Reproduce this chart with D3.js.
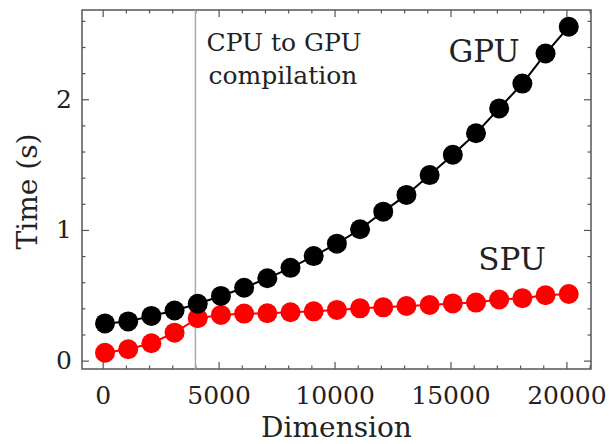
<!DOCTYPE html>
<html>
<head>
<meta charset="utf-8">
<script src="https://cdn.jsdelivr.net/npm/d3@7"></script>
<style>
  html, body { margin: 0; padding: 0; background: #fff; }
  svg text { font-family: "DejaVu Serif", "Liberation Serif", serif; fill: #222; }
</style>
</head>
<body>
<script>
// values
var dims = [100, 1100, 2100, 3100, 4100, 5100, 6100, 7100, 8100, 9100, 10100,
            11100, 12100, 13100, 14100, 15100, 16100, 17100, 18100, 19100, 20100];
var gpuTimes = [0.285, 0.30, 0.342, 0.384, 0.435, 0.495, 0.558, 0.63, 0.71, 0.80, 0.895,
                1.005, 1.14, 1.268, 1.42, 1.575, 1.74, 1.93, 2.12, 2.35, 2.555];
var spuTimes = [0.06, 0.087, 0.133, 0.214, 0.325, 0.35, 0.36, 0.363, 0.37, 0.377, 0.388,
                0.40, 0.408, 0.418, 0.426, 0.438, 0.444, 0.468, 0.478, 0.50, 0.51];
var xTicks = [0, 5000, 10000, 15000, 20000];
var yTicks = [0, 1, 2];
var compileAt = 4000;

var W = 609, H = 444;
var box = {left: 82, right: 591, top: 10, bottom: 369};

var svg = d3.select("body").append("svg")
    .attr("width", W)
    .attr("height", H);

var x = d3.scaleLinear().domain([-892, 21060]).range([box.left, box.right]);
var y = d3.scaleLinear().domain([-0.064, 2.683]).range([box.bottom, box.top]);

var minorX = d3.range(0, 21001, 1000).filter(function(v){ return xTicks.indexOf(v) < 0; });
var minorY = d3.range(0, 2.61, 0.2).map(function(v){ return +v.toFixed(1); })
    .filter(function(v){ return yTicks.indexOf(v) < 0; });

function styleAxis(g){
  g.select(".domain").remove();
  g.selectAll(".tick line").attr("stroke", "#555").attr("stroke-width", 1.2);
  g.selectAll(".tick text").attr("font-size", 25);
}

// bottom
svg.append("g").attr("transform", "translate(0," + box.bottom + ")")
   .call(d3.axisBottom(x).tickValues(xTicks).tickSizeInner(-7).tickSizeOuter(0).tickPadding(17)
     .tickFormat(d3.format("d")))
   .call(styleAxis);
svg.append("g").attr("transform", "translate(0," + box.bottom + ")")
   .call(d3.axisBottom(x).tickValues(minorX).tickSize(-3.5).tickFormat(""))
   .call(styleAxis);
// top
svg.append("g").attr("transform", "translate(0," + box.top + ")")
   .call(d3.axisTop(x).tickValues(xTicks).tickSize(-7).tickFormat(""))
   .call(styleAxis);
svg.append("g").attr("transform", "translate(0," + box.top + ")")
   .call(d3.axisTop(x).tickValues(minorX).tickSize(-3.5).tickFormat(""))
   .call(styleAxis);
// left
svg.append("g").attr("transform", "translate(" + box.left + ",0)")
   .call(d3.axisLeft(y).tickValues(yTicks).tickSizeInner(-7).tickSizeOuter(0).tickPadding(10)
     .tickFormat(d3.format("d")))
   .call(styleAxis);
svg.append("g").attr("transform", "translate(" + box.left + ",0)")
   .call(d3.axisLeft(y).tickValues(minorY).tickSize(-3.5).tickFormat(""))
   .call(styleAxis);
// right
svg.append("g").attr("transform", "translate(" + box.right + ",0)")
   .call(d3.axisRight(y).tickValues(yTicks).tickSize(-7).tickFormat(""))
   .call(styleAxis);
svg.append("g").attr("transform", "translate(" + box.right + ",0)")
   .call(d3.axisRight(y).tickValues(minorY).tickSize(-3.5).tickFormat(""))
   .call(styleAxis);

// frame
svg.append("rect")
   .attr("x", box.left).attr("y", box.top)
   .attr("width", box.right - box.left).attr("height", box.bottom - box.top)
   .attr("fill", "none").attr("stroke", "#555").attr("stroke-width", 1.5);

// compilation marker
svg.append("line")
   .attr("x1", x(compileAt)).attr("x2", x(compileAt))
   .attr("y1", box.top).attr("y2", box.bottom)
   .attr("stroke", "#aaa").attr("stroke-width", 1.5);

function drawSeries(vals, color){
  var pts = dims.map(function(d, i){ return [d, vals[i]]; });
  svg.append("path")
     .datum(pts)
     .attr("fill", "none")
     .attr("stroke", color)
     .attr("stroke-width", 2)
     .attr("d", d3.line().x(function(p){ return x(p[0]); }).y(function(p){ return y(p[1]); }));
  svg.append("g").selectAll("circle")
     .data(pts).enter().append("circle")
     .attr("cx", function(p){ return x(p[0]); })
     .attr("cy", function(p){ return y(p[1]); })
     .attr("r", 10)
     .attr("fill", color);
}

drawSeries(spuTimes, "#f00");
drawSeries(gpuTimes, "#000");

// labels
svg.append("text").attr("x", 284).attr("y", 51).attr("text-anchor", "middle")
   .attr("font-size", 25).attr("fill", "#333").text("CPU to GPU");
svg.append("text").attr("x", 283).attr("y", 84).attr("text-anchor", "middle")
   .attr("font-size", 25).attr("fill", "#333").text("compilation");
svg.append("text").attr("x", 484).attr("y", 62).attr("text-anchor", "middle")
   .attr("font-size", 31).text("GPU");
svg.append("text").attr("x", 512).attr("y", 270).attr("text-anchor", "middle")
   .attr("font-size", 31).text("SPU");

svg.append("text").attr("x", (box.left + box.right) / 2).attr("y", 437)
   .attr("text-anchor", "middle").attr("font-size", 28).text("Dimension");
svg.append("text")
   .attr("transform", "translate(37," + ((box.top + box.bottom) / 2 + 2) + ") rotate(-90)")
   .attr("text-anchor", "middle").attr("font-size", 28).text("Time (s)");
</script>
</body>
</html>
